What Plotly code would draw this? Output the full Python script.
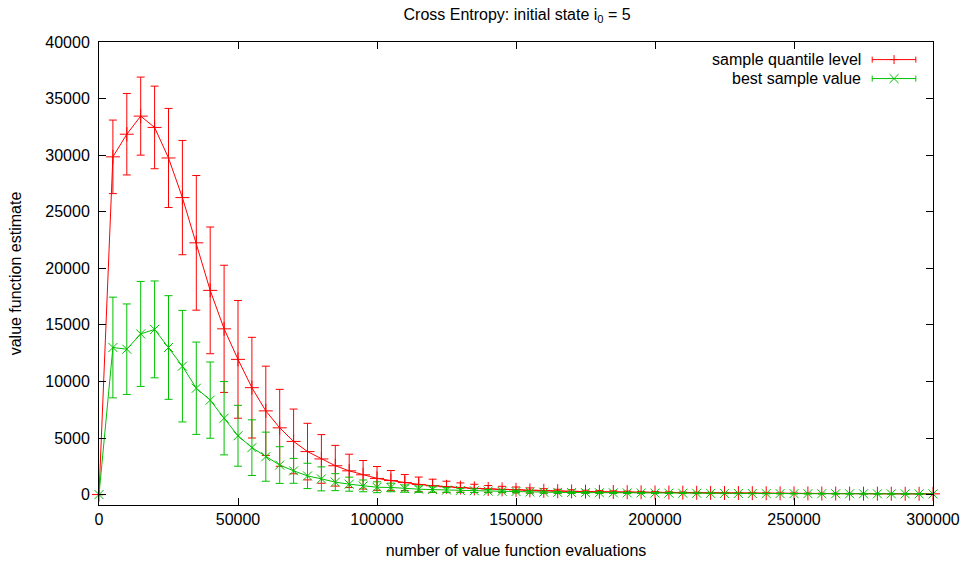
import plotly.graph_objects as go

# ---- data ----
x_evals = list(range(0, 300001, 5000))

quantile_mean = [
    0, 29850, 31850, 33450, 32450, 29750, 26250, 22250, 18050, 14650,
    11950, 9450, 7400, 5900, 4700, 3800, 3150, 2550, 2100, 1750,
    1430, 1240, 1060, 900, 780, 690, 620, 550, 500, 460,
    420, 370, 330, 300, 280, 260, 245, 230, 215, 200,
    190, 180, 170, 160, 150, 140, 132, 125, 118, 112,
    106, 100, 95, 90, 86, 82, 78, 75, 72, 68,
    65]
quantile_err = [
    0, 3250, 3600, 3450, 3650, 4380, 5050, 5950, 5600, 5620,
    5200, 4450, 3950, 3400, 2860, 2500, 2150, 1800, 1470, 1260,
    1050, 890, 710, 650, 580, 490, 410, 360, 300, 270,
    250, 220, 190, 170, 150, 130, 115, 100, 90, 80,
    70, 60, 55, 50, 45, 40, 38, 35, 32, 30,
    28, 26, 25, 24, 22, 21, 20, 19, 18, 17,
    16]

best_mean = [
    0, 13000, 12850, 14200, 14600, 13000, 11350, 9400, 8350, 6750,
    5200, 4150, 3350, 2610, 2100, 1650, 1390, 1100, 920, 770,
    650, 630, 530, 480, 440, 400, 370, 340, 310, 290,
    270, 230, 210, 195, 185, 175, 165, 155, 148, 140,
    133, 127, 121, 115, 110, 105, 100, 96, 92, 88,
    85, 82, 79, 76, 73, 70, 68, 66, 64, 62,
    60]
best_err = [
    0, 4450, 4000, 4640, 4280, 4580, 4930, 4080, 3370, 3240,
    2690, 2460, 2170, 1620, 1100, 1120, 1060, 750, 620, 520,
    480, 380, 320, 280, 240, 210, 180, 160, 140, 120,
    110, 100, 90, 80, 70, 60, 55, 50, 45, 40,
    36, 33, 30, 28, 26, 24, 22, 20, 19, 18,
    17, 16, 15, 14, 13, 12, 12, 11, 11, 10,
    10]

series_names = ["sample quantile level", "best sample value"]
RED = "#ff0000"
GREEN = "#00c000"
FONT = "Liberation Sans, Arial, Helvetica, sans-serif"
FS = 16

fig = go.Figure()
fig.add_trace(go.Scatter(
    x=x_evals, y=quantile_mean, mode="lines+markers", name=series_names[0],
    line=dict(color=RED, width=1),
    marker=dict(symbol="cross-thin", size=10, color=RED, line=dict(color=RED, width=1)),
    error_y=dict(type="data", array=quantile_err, visible=True, color=RED, thickness=1, width=4),
    cliponaxis=False, showlegend=False))
fig.add_trace(go.Scatter(
    x=x_evals, y=best_mean, mode="lines+markers", name=series_names[1],
    line=dict(color=GREEN, width=1),
    marker=dict(symbol="x-thin", size=9, color=GREEN, line=dict(color=GREEN, width=1)),
    error_y=dict(type="data", array=best_err, visible=True, color=GREEN, thickness=1, width=4),
    cliponaxis=False, showlegend=False))

# ---- custom gnuplot-style legend (text right, sample on the right) ----
leg_text_x = 0.9159
leg_x0, leg_x1, leg_xm = 0.9271, 0.9794, 0.9533
leg_rows = [0.9620, 0.9210]
colors = [RED, GREEN]
shapes = []
annotations = []
cap = 0.0065
mx, my = 0.0054, 0.0097
for i, (name, yy, col) in enumerate(zip(series_names, leg_rows, colors)):
    annotations.append(dict(text=name, xref="paper", yref="paper", x=leg_text_x, y=yy,
                            xanchor="right", yanchor="middle", showarrow=False,
                            font=dict(family=FONT, size=FS, color="black")))
    ln = dict(color=col, width=1)
    shapes.append(dict(type="line", xref="paper", yref="paper", x0=leg_x0, x1=leg_x1, y0=yy, y1=yy, line=ln))
    shapes.append(dict(type="line", xref="paper", yref="paper", x0=leg_x0, x1=leg_x0, y0=yy - cap, y1=yy + cap, line=ln))
    shapes.append(dict(type="line", xref="paper", yref="paper", x0=leg_x1, x1=leg_x1, y0=yy - cap, y1=yy + cap, line=ln))
    if i == 0:
        shapes.append(dict(type="line", xref="paper", yref="paper", x0=leg_xm, x1=leg_xm, y0=yy - my, y1=yy + my, line=ln))
        shapes.append(dict(type="line", xref="paper", yref="paper", x0=leg_xm - mx, x1=leg_xm + mx, y0=yy, y1=yy, line=ln))
    else:
        shapes.append(dict(type="line", xref="paper", yref="paper", x0=leg_xm - mx, x1=leg_xm + mx, y0=yy - my, y1=yy + my, line=ln))
        shapes.append(dict(type="line", xref="paper", yref="paper", x0=leg_xm - mx, x1=leg_xm + mx, y0=yy + my, y1=yy - my, line=ln))

axis_common = dict(
    showline=True, linecolor="black", linewidth=1, mirror="allticks",
    ticks="inside", ticklen=7, tickwidth=1, tickcolor="black",
    showgrid=False, zeroline=False,
    tickfont=dict(family=FONT, size=FS, color="black"),
)

fig.update_layout(
    width=963, height=562,
    margin=dict(l=99, r=29.5, t=41.7, b=57, autoexpand=False),
    paper_bgcolor="white", plot_bgcolor="white",
    title=dict(text="Cross Entropy: initial state i<sub>0</sub> = 5", x=0.537, xanchor="center",
               y=1 - 14 / 562, yanchor="middle", font=dict(family=FONT, size=FS, color="black")),
    xaxis=dict(range=[0, 300000], tick0=0, dtick=50000, tickformat="d",
               title=dict(text="number of value function evaluations", standoff=17,
                          font=dict(family=FONT, size=FS, color="black")),
               automargin=False, **axis_common),
    yaxis=dict(range=[-920, 40000], tick0=0, dtick=5000, tickformat="d",
               ticklabelstandoff=5,
               title=dict(text="value function estimate", standoff=19,
                          font=dict(family=FONT, size=FS, color="black")),
               automargin=False, **axis_common),
    shapes=shapes, annotations=annotations, showlegend=False,
)

fig.write_html("out.html")
